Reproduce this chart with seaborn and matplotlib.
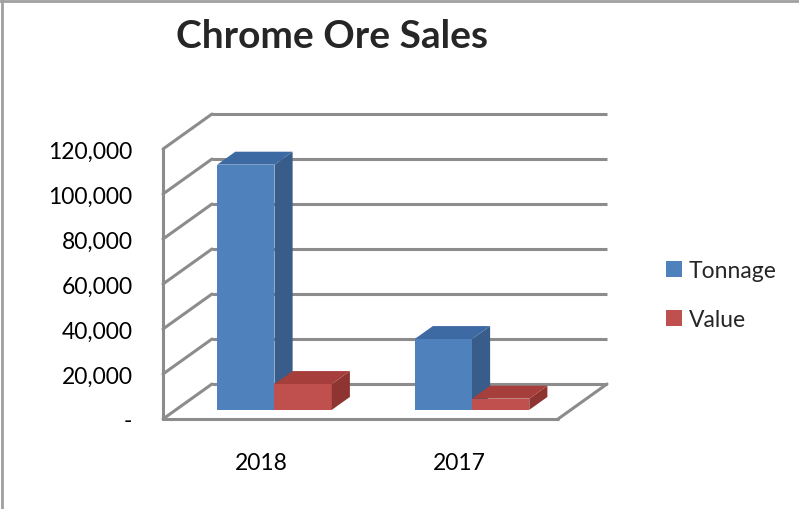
import numpy as np
import pandas as pd
import matplotlib
matplotlib.use('Agg')
import matplotlib.pyplot as plt
import seaborn as sns
from matplotlib.patches import Polygon
from matplotlib.lines import Line2D

# data
years = ['2018', '2017']
series = ['Tonnage', 'Value']
tonnage = [109000, 31500]
value = [11500, 5000]
yticks = [0, 20000, 40000, 60000, 80000, 100000, 120000]
ytick_labels = ['-', '20,000', '40,000', '60,000', '80,000', '100,000', '120,000']

sns.set_theme(style='white')
plt.rcParams['font.family'] = ['Lato', 'DejaVu Sans']

W, H = 799, 510
fig = plt.figure(figsize=(W / 100, H / 100), dpi=100)
ax = fig.add_axes([163 / W, 90 / H, 395 / W, 270 / H])

df = pd.DataFrame({
    'Year': years * 2,
    'Series': [series[0]] * 2 + [series[1]] * 2,
    'Amount': tonnage + value,
})
front = {'Tonnage': '#4F81BD', 'Value': '#C0504D'}
side = {'Tonnage': '#385D8A', 'Value': '#8E3532'}
top = {'Tonnage': '#3E6AA3', 'Value': '#A63E3B'}

sns.barplot(data=df, x='Year', y='Amount', hue='Series', palette=front,
            width=0.58, saturation=1, edgecolor='none', ax=ax)
bars = list(ax.patches)

ax.set_xlim(-0.5, 1.5)
ax.set_ylim(0, 120000)

# depth offset (front plane -> back wall), pixels converted to data units
DX = 49 * 2.0 / 395
DY = 35 * 120000.0 / 270
grid_c = '#8C8C8C'
lw = 2.2

# back wall gridlines and left wall diagonals
for v in yticks:
    ax.plot([-0.5 + DX, 1.5 + DX], [v + DY, v + DY], color=grid_c, lw=lw,
            clip_on=False, zorder=1, solid_capstyle='butt')
    ax.plot([-0.5, -0.5 + DX], [v, v + DY], color=grid_c, lw=lw,
            clip_on=False, zorder=1)
ax.plot([-0.5, -0.5], [0, 120000], color=grid_c, lw=lw, clip_on=False, zorder=1)
# floor
ax.plot([-0.5, 1.5], [0, 0], color=grid_c, lw=lw, clip_on=False, zorder=5)
ax.plot([1.5, 1.5 + DX], [0, DY], color=grid_c, lw=lw, clip_on=False, zorder=5)

# 3d faces for bars
f0, t = 0.26, 0.37
for p in bars:
    fc = p.get_facecolor()
    name = 'Tonnage' if fc[2] > fc[0] else 'Value'
    z = 3 if name == 'Tonnage' else 4
    x0 = p.get_x() + f0 * DX
    y0 = f0 * DY
    w = p.get_width()
    h = p.get_height()
    p.set_x(x0)
    p.set_y(y0)
    p.set_zorder(z)
    p.set_clip_on(False)
    ax.add_patch(Polygon([(x0 + w, y0), (x0 + w + t * DX, y0 + t * DY),
                          (x0 + w + t * DX, y0 + h + t * DY), (x0 + w, y0 + h)],
                         closed=True, facecolor=side[name], edgecolor='none',
                         zorder=z, clip_on=False))
    ax.add_patch(Polygon([(x0, y0 + h), (x0 + t * DX, y0 + h + t * DY),
                          (x0 + w + t * DX, y0 + h + t * DY), (x0 + w, y0 + h)],
                         closed=True, facecolor=top[name], edgecolor='none',
                         zorder=z, clip_on=False))

for s in ax.spines.values():
    s.set_visible(False)
ax.set_xlabel('')
ax.set_ylabel('')
ax.set_yticks(yticks, ytick_labels)
ax.tick_params(axis='y', length=0, pad=22, labelsize=16.5, labelcolor='black')
ax.tick_params(axis='x', length=0, pad=24, labelsize=16.5, labelcolor='black')

handles, labels = ax.get_legend_handles_labels()
ax.get_legend().remove()
fig.legend(handles, labels, loc='center left',
           bbox_to_anchor=(645 / W, 1 - 296 / H), frameon=False,
           fontsize=16.5, handlelength=0.7, handleheight=0.7,
           handletextpad=0.3, labelspacing=1.25)

fig.text(332 / W, 1 - 37 / H, 'Chrome Ore Sales', ha='center', va='center',
         fontsize=28, weight='bold')

# chart border (top and left visible)
fig.add_artist(Line2D([1.5 / W, 1.5 / W], [0, 1], transform=fig.transFigure,
                      color='#A0A0A0', lw=2))
fig.add_artist(Line2D([0, 1], [1 - 1.5 / H, 1 - 1.5 / H], transform=fig.transFigure,
                      color='#A0A0A0', lw=2))

fig.savefig('out.png', dpi=100, facecolor='white')
